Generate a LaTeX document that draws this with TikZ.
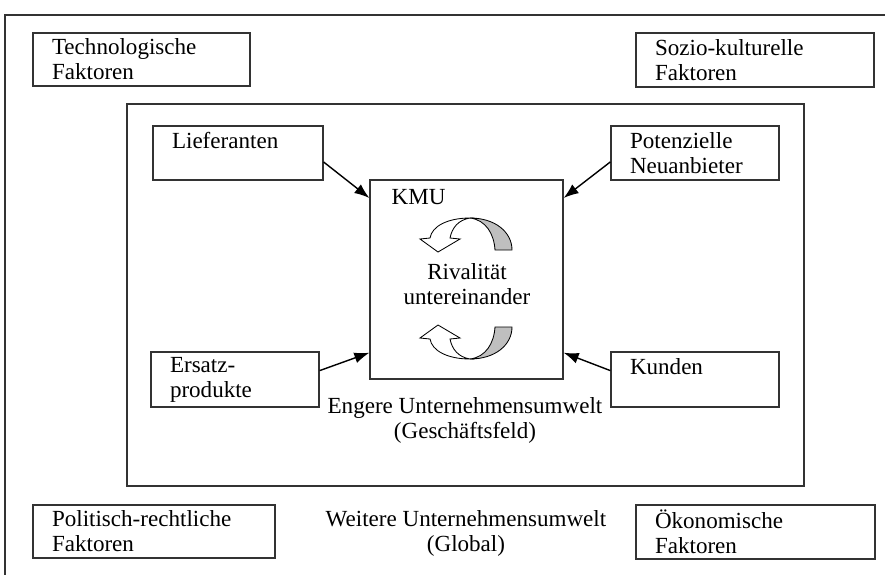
\documentclass[tikz,border=0pt]{standalone}
\usepackage{fontspec}
\setmainfont{Liberation Serif}
\usetikzlibrary{arrows.meta}
\newlength{\unitpx}
\setlength{\unitpx}{0.025cm}

\begin{document}
\begin{tikzpicture}[x=0.025cm, y=-0.025cm,
    font=\fontsize{16.4}{17.8}\selectfont,
    factor/.style={draw=black!80, line width=0.9pt, align=left, inner xsep=19\unitpx, inner ysep=0pt},
    frame/.style={draw=black!80, line width=0.9pt, inner sep=0pt},
    feed/.style={-{Latex[length=0.375cm, width=0.275cm]}, line width=1pt},
    pics/rivalarrow/.style={code={
        \draw[fill=black!25, line width=0.6pt]
        (0,-34) .. controls (25,-34) and (42,-20) .. (42,-2) -- (25,-2)
        .. controls (24,-18) and (16,-32) .. (0,-34) -- cycle;
        \draw[fill=white, line width=0.6pt]
        (0,-34) .. controls (-22,-34) and (-38,-26) .. (-40,-14) -- (-50,-13) -- (-32,0)
        -- (-10,-13) -- (-20,-14) .. controls (-18,-24) and (-12,-32) .. (0,-34) -- cycle;
    }}]
    \useasboundingbox (0,0) rectangle (885,574);
    \clip (0,0) rectangle (885,574);
    \draw[black!80, line width=0.9pt] (5,15) rectangle (900,600);

    \node[factor, text width=179\unitpx, minimum height=53\unitpx] (tech) at (141.5,59.5) {Technologische\\Faktoren};
    \node[factor, text width=200\unitpx, minimum height=54\unitpx] (sozio) at (755,60) {Sozio-kulturelle\\Faktoren};
    \node[factor, text width=204\unitpx, minimum height=53\unitpx] (polit) at (154,531.5) {Politisch-rechtliche\\Faktoren};
    \node[factor, text width=201\unitpx, minimum height=54\unitpx] (oeko) at (755.5,532) {Ökonomische\\Faktoren};
    \node[align=center] (weitere) at (466,533.5) {Weitere Unternehmensumwelt\\(Global)};

    \node[frame, minimum width=677\unitpx, minimum height=382\unitpx] (engere) at (465.5,295) {};
    \node[align=center] (engeretxt) at (465,420) {Engere Unternehmensumwelt\\(Geschäftsfeld)};

    \node[factor, text width=132\unitpx, minimum height=54\unitpx] (liefer) at (238,153) {Lieferanten\\~};
    \node[factor, text width=130\unitpx, minimum height=54\unitpx] (poten) at (695,153) {Potenzielle\\Neuanbieter};
    \node[factor, text width=130\unitpx, minimum height=55\unitpx] (ersatz) at (235,379.5) {Ersatz-\\produkte};
    \node[factor, text width=130\unitpx, minimum height=55\unitpx] (kunden) at (695,379.5) {Kunden\\~};

    \node[frame, minimum width=193\unitpx, minimum height=199\unitpx,
        label={[anchor=north west, inner sep=0pt, xshift=22\unitpx, yshift=-10\unitpx]north west:KMU}] (kmu) at (466.5,279.5) {};
    \node[align=center] (rival) at (467,284) {Rivalität\\untereinander};
    \pic at (470,252) {rivalarrow};
    \pic[yscale=-1] at (470,325) {rivalarrow};

    \draw[feed] (liefer.-6) -- (kmu.140);
    \draw[feed] (poten.186) -- (kmu.40);
    \draw[feed] (ersatz.6) -- (kmu.217);
    \draw[feed] (kunden.174) -- (kmu.323);
\end{tikzpicture}
\end{document}
